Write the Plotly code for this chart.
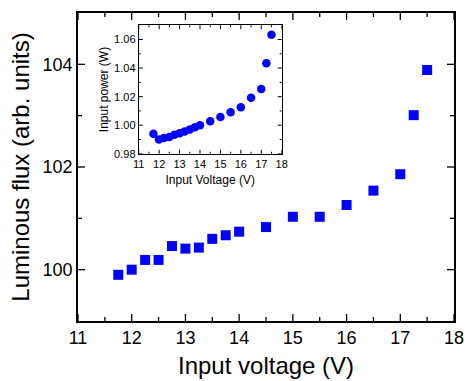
import plotly.graph_objects as go

# Main plot data
voltage = [11.75, 12.0, 12.25, 12.5, 12.75, 13.0, 13.25, 13.5, 13.75, 14.0,
           14.5, 15.0, 15.5, 16.0, 16.5, 17.0, 17.25, 17.5]
flux = [99.90, 100.00, 100.19, 100.19, 100.46, 100.41, 100.43, 100.60, 100.67, 100.74,
        100.83, 101.03, 101.03, 101.26, 101.54, 101.86, 103.01, 103.89]

# Inset data
inset_voltage = [11.72, 11.99, 12.23, 12.5, 12.75, 13.0, 13.25, 13.5, 13.75, 14.0,
                 14.5, 15.0, 15.5, 16.0, 16.5, 17.0, 17.25, 17.5]
inset_power = [0.994, 0.990, 0.991, 0.9917, 0.9933, 0.9943, 0.9956, 0.997, 0.9986, 1.000,
               1.0028, 1.0057, 1.009, 1.0126, 1.0193, 1.0253, 1.0434, 1.0634]

# Tick values
main_x_major = [11, 12, 13, 14, 15, 16, 17, 18]
main_x_minor = [11.5, 12.5, 13.5, 14.5, 15.5, 16.5, 17.5]
main_y_major = [100, 102, 104]
main_y_minor = [101, 103]
inset_x_major = [11, 12, 13, 14, 15, 16, 17, 18]
inset_x_minor = [11.5, 12.5, 13.5, 14.5, 15.5, 16.5, 17.5]
inset_y_major = [0.98, 1.00, 1.02, 1.04, 1.06]
inset_y_minor = [0.99, 1.01, 1.03, 1.05]

FONT = "Liberation Sans, Arial, sans-serif"
BLUE = "#0000FF"

fig = go.Figure()
fig.add_trace(go.Scatter(x=voltage, y=flux, mode="markers",
                         marker=dict(symbol="square", size=10, color=BLUE),
                         xaxis="x", yaxis="y", showlegend=False))
fig.add_trace(go.Scatter(x=inset_voltage, y=inset_power, mode="markers",
                         marker=dict(symbol="circle", size=8.5, color=BLUE),
                         xaxis="x2", yaxis="y2", showlegend=False))

main_axis = dict(showline=True, linecolor="black", linewidth=1.5, mirror=True,
                 ticks="", showgrid=False, zeroline=False,
                 tickfont=dict(family=FONT, size=18, color="black"))
inset_axis = dict(showline=True, linecolor="black", linewidth=1, mirror=True,
                  ticks="", showgrid=False, zeroline=False,
                  tickfont=dict(family=FONT, size=11, color="black"))

shapes = []


def add_x_ticks(vals, xref, yref, length, width):
    for v in vals:
        for anchor, sign in ((0, 1), (1, -1)):
            shapes.append(dict(type="line", xref=xref, yref=yref, x0=v, x1=v,
                               ysizemode="pixel", yanchor=anchor, y0=0, y1=sign * length,
                               line=dict(color="black", width=width)))


def add_y_ticks(vals, xref, yref, length, width):
    for v in vals:
        for anchor, sign in ((0, 1), (1, -1)):
            shapes.append(dict(type="line", xref=xref, yref=yref, y0=v, y1=v,
                               xsizemode="pixel", xanchor=anchor, x0=0, x1=sign * length,
                               line=dict(color="black", width=width)))


add_x_ticks(main_x_major, "x", "y domain", 7, 1.3)
add_x_ticks(main_x_minor, "x", "y domain", 4, 1.3)
add_y_ticks(main_y_major, "x domain", "y", 7, 1.3)
add_y_ticks(main_y_minor, "x domain", "y", 4, 1.3)
add_x_ticks(inset_x_major, "x2", "y2 domain", 4, 1)
add_x_ticks(inset_x_minor, "x2", "y2 domain", 2, 1)
add_y_ticks(inset_y_major, "x2 domain", "y2", 4, 1)
add_y_ticks(inset_y_minor, "x2 domain", "y2", 2, 1)

fig.update_layout(
    width=475, height=381,
    margin=dict(l=78, r=13, t=11, b=60),
    paper_bgcolor="white", plot_bgcolor="white",
    font=dict(family=FONT, color="black"),
    xaxis=dict(main_axis, range=[11, 18], tickvals=main_x_major,
               anchor="y", domain=[0, 1]),
    yaxis=dict(main_axis, range=[99, 105], tickvals=main_y_major,
               title=dict(text="Luminous flux (arb. units)", font=dict(family=FONT, size=24), standoff=6),
               anchor="x", domain=[0, 1]),
    xaxis2=dict(inset_axis, range=[11, 18], tickvals=inset_x_major,
                title=dict(text="Input Voltage (V)", font=dict(family=FONT, size=12), standoff=6),
                ticklabelstandoff=0,
                anchor="y2", domain=[0.1615, 0.5417]),
    yaxis2=dict(inset_axis, range=[0.98, 1.07], tickvals=inset_y_major, tickformat=".2f",
                title=dict(text="Input power (W)", font=dict(family=FONT, size=12), standoff=2),
                anchor="x2", domain=[0.5429, 0.9603]),
    shapes=shapes,
    annotations=[dict(text="Input voltage (V)", xref="paper", yref="paper", x=0.5, y=0,
                      xanchor="center", yanchor="middle", yshift=-44, showarrow=False,
                      font=dict(family=FONT, size=24, color="black"))],
)

fig.write_html("out.html", config={"displayModeBar": False},
               post_script="document.body.style.margin='0';")
